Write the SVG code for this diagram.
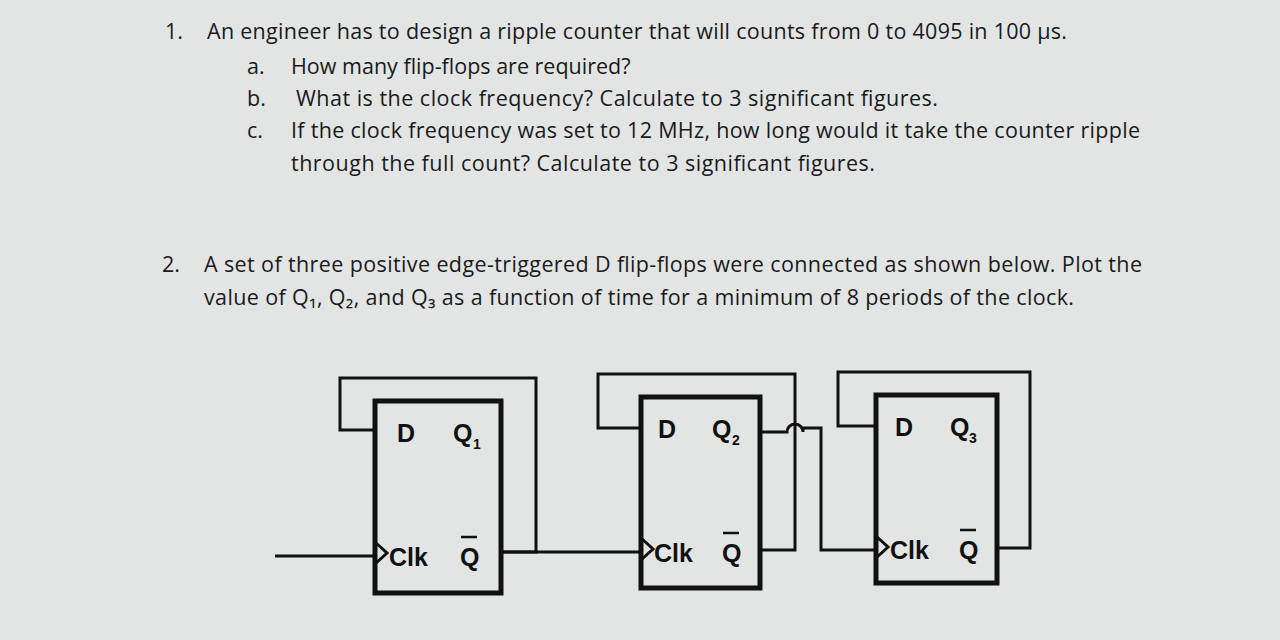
<svg xmlns="http://www.w3.org/2000/svg" width="1280" height="640" viewBox="0 0 1280 640">
<style>
.t{font-family:"Open Sans","Liberation Sans",sans-serif;font-size:21.5px;fill:#1a1a1a}
.b{fill:none;stroke:#111;stroke-width:5}
.w{fill:none;stroke:#111;stroke-width:3}
.l{font-family:"Liberation Sans",Arial,sans-serif;font-weight:bold;font-size:25px;fill:#111}
.s{font-family:"Liberation Sans",Arial,sans-serif;font-weight:bold;font-size:14px;fill:#111}
</style>
<rect width="1280" height="640" fill="#e3e5e5"/>
<text class="t" x="165" y="39">1.</text>
<text class="t" x="207" y="39" textLength="860">An engineer has to design a ripple counter that will counts from 0 to 4095 in 100 µs.</text>
<text class="t" x="247" y="74">a.</text>
<text class="t" x="291" y="74">How many flip-flops are required?</text>
<text class="t" x="247" y="106">b.</text>
<text class="t" x="296" y="106" textLength="642">What is the clock frequency? Calculate to 3 significant figures.</text>
<text class="t" x="247" y="138">c.</text>
<text class="t" x="291" y="138" textLength="849">If the clock frequency was set to 12 MHz, how long would it take the counter ripple</text>
<text class="t" x="291" y="171" textLength="584">through the full count? Calculate to 3 significant figures.</text>
<text class="t" x="162" y="272">2.</text>
<text class="t" x="204" y="272" textLength="938">A set of three positive edge-triggered D flip-flops were connected as shown below. Plot the</text>
<text class="t" x="204" y="305" textLength="870">value of Q₁, Q₂, and Q₃ as a function of time for a minimum of 8 periods of the clock.</text>
<g id="ff1">
<rect class="b" x="375" y="401" width="126" height="192"/>
<path class="w" d="M375 542 L387 553 L375 564"/>
<text class="l" x="397" y="442">D</text><text class="l" x="453" y="442">Q</text><text class="s" x="473" y="449">1</text>
<text class="l" x="389" y="566">Clk</text><text class="l" x="460" y="566">Q</text><line x1="461" y1="537" x2="477" y2="537" stroke="#111" stroke-width="2.5"/>
</g>
<g id="ff2">
<rect class="b" x="641" y="397" width="119" height="191"/>
<path class="w" d="M641 538 L653 549 L641 560"/>
<text class="l" x="658" y="438">D</text><text class="l" x="712" y="438">Q</text><text class="s" x="732" y="445">2</text>
<text class="l" x="654" y="562">Clk</text><text class="l" x="722" y="562">Q</text><line x1="723" y1="533" x2="739" y2="533" stroke="#111" stroke-width="2.5"/>
</g>
<g id="ff3">
<rect class="b" x="876" y="395" width="121" height="188"/>
<path class="w" d="M876 536 L888 547 L876 558"/>
<text class="l" x="895" y="436">D</text><text class="l" x="950" y="436">Q</text><text class="s" x="969" y="443">3</text>
<text class="l" x="890" y="559">Clk</text><text class="l" x="959" y="559">Q</text><line x1="960" y1="530" x2="976" y2="530" stroke="#111" stroke-width="2.5"/>
</g>
<g id="connectors">
<path class="w" d="M275 556 H375"/>
<path class="w" d="M501 552 H536 V378 H340 V430 H375"/>
<path class="w" d="M501 552 H641"/>
<path class="w" d="M760 550 H795 V374 H598 V428 H641"/>
<path class="w" d="M760 432 H787 A8 8 0 0 1 803 432 V428 H821 V550 H876"/>
<path class="w" d="M997 548 H1030 V372 H838 V426 H876"/>
</g>
</svg>
